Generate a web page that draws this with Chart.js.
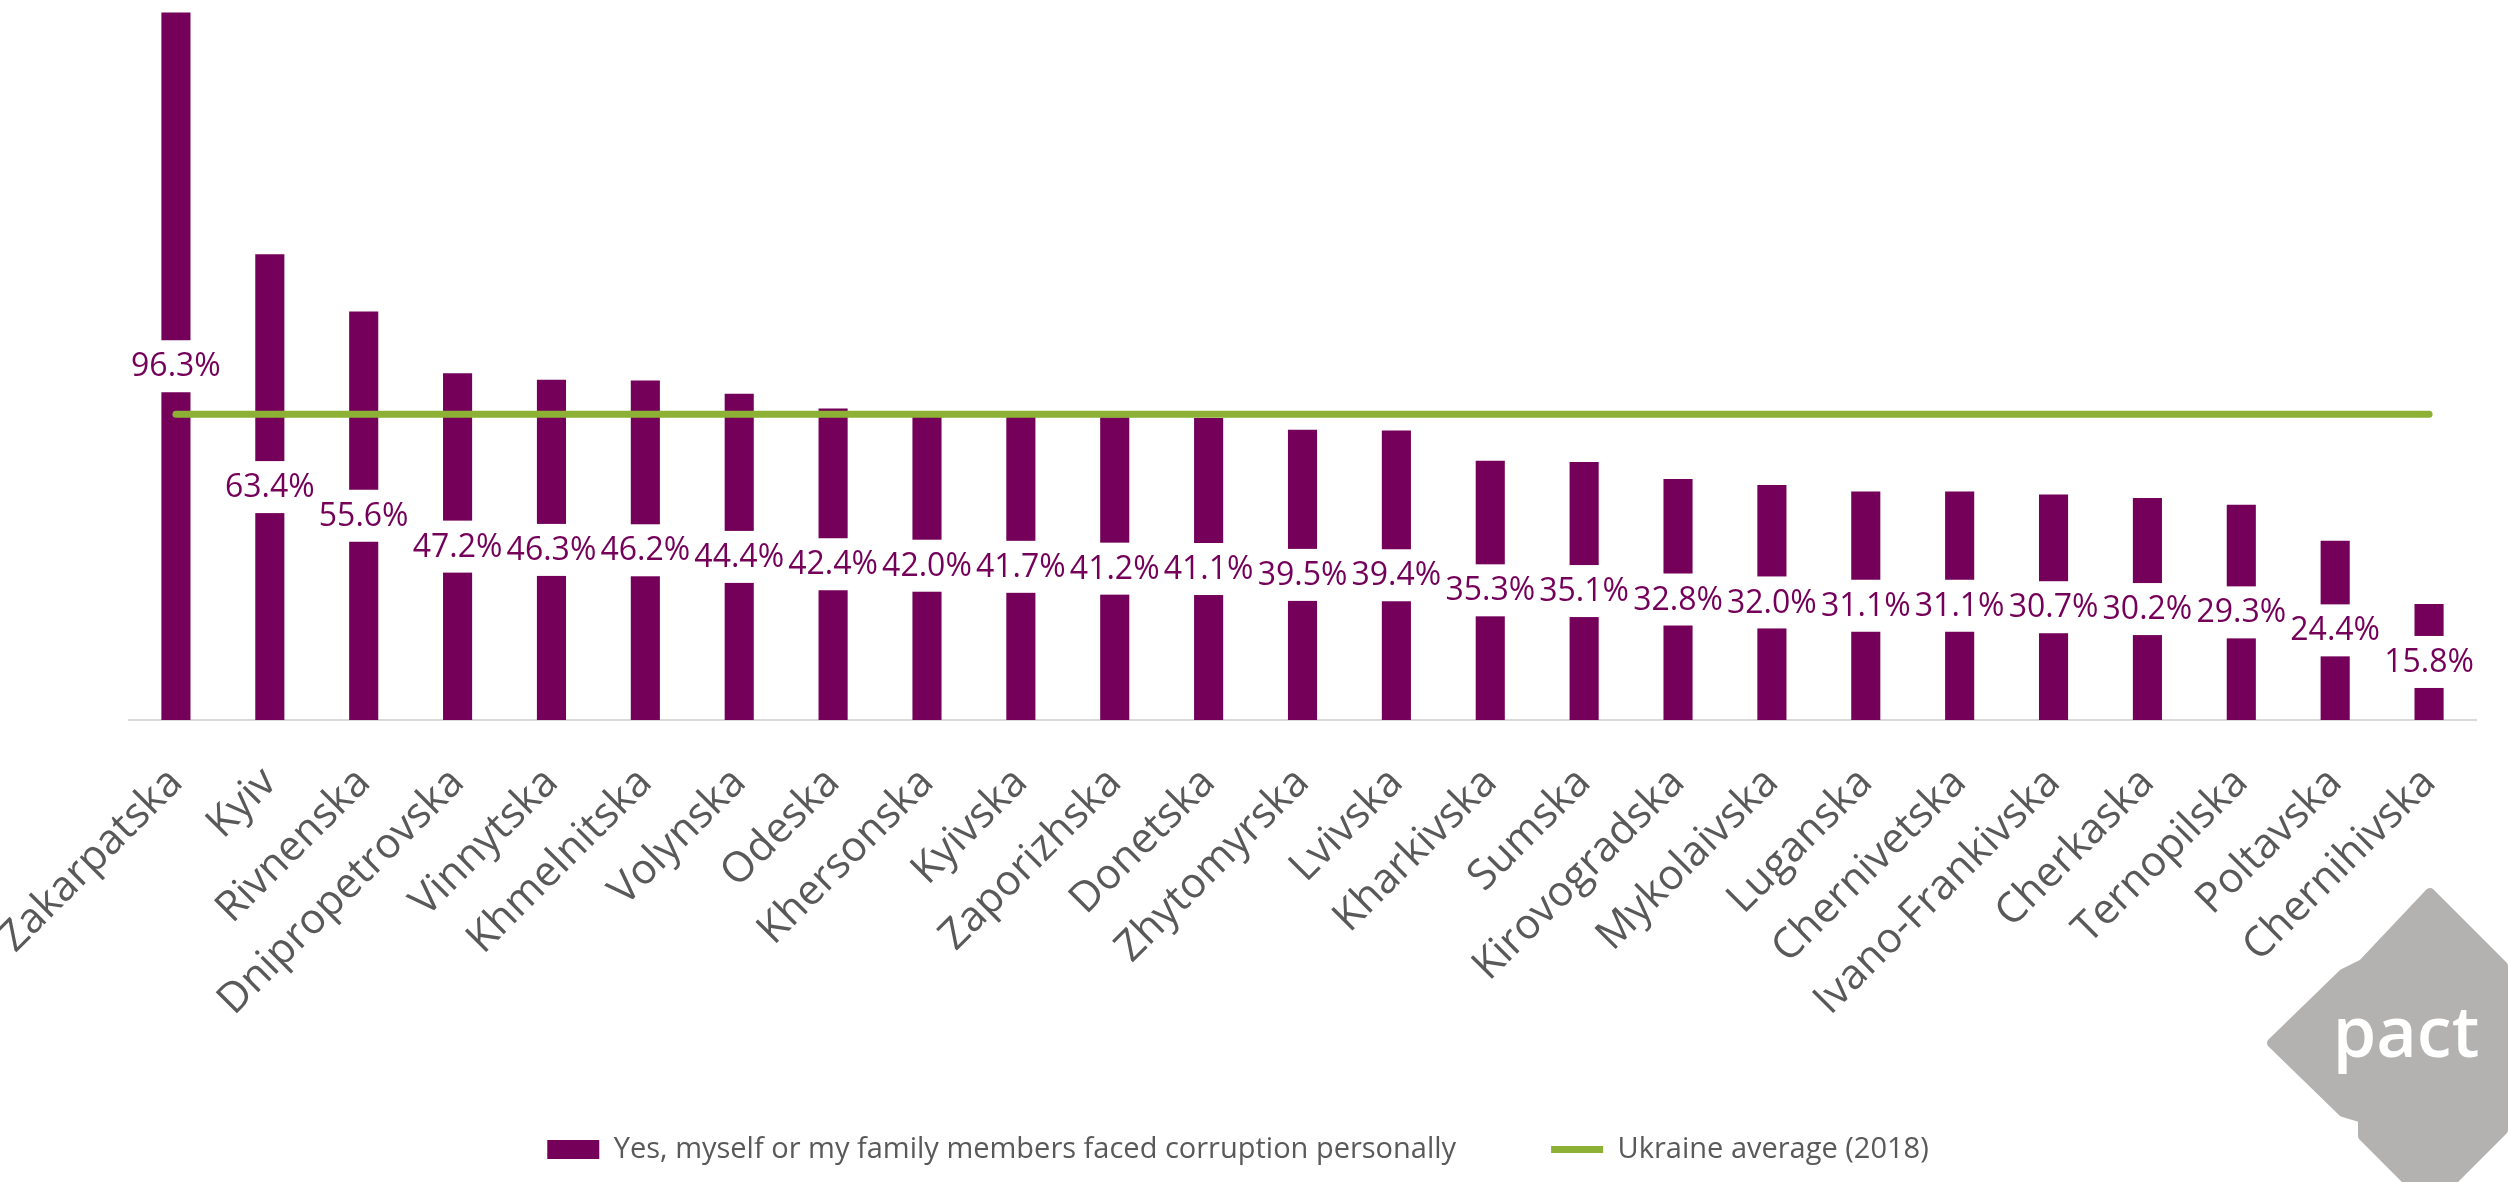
<!DOCTYPE html>
<html lang="en">
<head>
<meta charset="UTF-8">
<title>Faced corruption personally, by oblast</title>
<script src="https://cdn.jsdelivr.net/npm/chart.js@4.4.1/dist/chart.umd.min.js"></script>
<style>
  html, body { margin: 0; padding: 0; background: #fff; }
  #wrap { position: relative; width: 2509px; height: 1182px; }
</style>
</head>
<body>
<div id="wrap"><canvas id="chart"></canvas></div>
<script>
const regions = [
  "Zakarpatska", "Kyiv", "Rivnenska", "Dnipropetrovska", "Vinnytska",
  "Khmelnitska", "Volynska", "Odeska", "Khersonska", "Kyivska",
  "Zaporizhska", "Donetska", "Zhytomyrska", "Lvivska", "Kharkivska",
  "Sumska", "Kirovogradska", "Mykolaivska", "Luganska", "Chernivetska",
  "Ivano-Frankivska", "Cherkaska", "Ternopilska", "Poltavska", "Chernihivska"
];
const facedCorruption = [
  96.3, 63.4, 55.6, 47.2, 46.3,
  46.2, 44.4, 42.4, 42.0, 41.7,
  41.2, 41.1, 39.5, 39.4, 35.3,
  35.1, 32.8, 32.0, 31.1, 31.1,
  30.7, 30.2, 29.3, 24.4, 15.8
];
const ukraineAverage = 41.6;
const avgLine = regions.map(() => ukraineAverage);

const PURPLE = "#74005A";
const GREEN = "#8DB135";
const FONT = "'Open Sans', 'DejaVu Sans', sans-serif";

// value labels in the middle of each bar, on a white box
const barLabels = {
  id: "barLabels",
  afterDatasetsDraw(chart) {
    const ctx = chart.ctx;
    const meta = chart.getDatasetMeta(0);
    ctx.save();
    ctx.font = "32px " + FONT;
    ctx.textAlign = "center";
    ctx.textBaseline = "middle";
    meta.data.forEach((bar, i) => {
      const txt = facedCorruption[i].toFixed(1) + "%";
      const cy = (bar.y + bar.base) / 2;
      const w = ctx.measureText(txt).width + 2;
      ctx.fillStyle = "#fff";
      ctx.fillRect(bar.x - w / 2, cy - 26, w, 52);
      ctx.fillStyle = PURPLE;
      ctx.fillText(txt, bar.x, cy + 1);
    });
    ctx.restore();
  }
};

// grey "pact" badge in the bottom right corner
const pactLogo = {
  id: "pactLogo",
  afterDraw(chart) {
    const ctx = chart.ctx;
    const pts = [
      [2430, 893], [2503, 966], [2503, 1130], [2430, 1203], [2363, 1136],
      [2363, 1118], [2343, 1112], [2272, 1043], [2343, 974], [2363, 964]
    ];
    ctx.save();
    ctx.beginPath();
    pts.forEach((p, i) => i ? ctx.lineTo(p[0], p[1]) : ctx.moveTo(p[0], p[1]));
    ctx.closePath();
    ctx.fillStyle = "#B4B2B0";
    ctx.strokeStyle = "#B4B2B0";
    ctx.lineJoin = "round";
    ctx.lineWidth = 10;
    ctx.fill();
    ctx.stroke();
    ctx.fillStyle = "#fff";
    ctx.font = "600 70px " + FONT;
    ctx.textAlign = "center";
    ctx.textBaseline = "alphabetic";
    ctx.fillText("pact", 2406, 1057);
    ctx.restore();
  }
};

new Chart(document.getElementById("chart"), {
  data: {
    labels: regions,
    datasets: [
      {
        type: "bar",
        label: "Yes, myself or my family members faced corruption personally",
        data: facedCorruption,
        backgroundColor: PURPLE,
        borderWidth: 0,
        barPercentage: 0.31,
        categoryPercentage: 1,
        order: 2,
        pointStyle: "rect"
      },
      {
        type: "line",
        label: "Ukraine average (2018)",
        data: avgLine,
        borderColor: GREEN,
        backgroundColor: GREEN,
        borderWidth: 7,
        borderCapStyle: "round",
        pointRadius: 0,
        order: 1,
        pointStyle: "line"
      }
    ]
  },
  options: {
    responsive: true,
    maintainAspectRatio: false,
    animation: false,
    layout: { padding: { left: 0, right: 33, top: 0, bottom: 8 } },
    plugins: {
      tooltip: { enabled: false },
      legend: {
        position: "bottom",
        labels: {
          usePointStyle: true,
          pointStyleWidth: 52,
          boxHeight: 19,
          padding: 95,
          color: "#595959",
          font: { family: FONT, size: 29 },
          sort: (a, b) => a.datasetIndex - b.datasetIndex
        }
      }
    },
    scales: {
      x: {
        grid: { display: false, drawTicks: false },
        border: { display: true, color: "#D9D9D9", width: 2 },
        ticks: {
          autoSkip: false,
          maxRotation: 45,
          minRotation: 45,
          padding: 38,
          color: "#595959",
          font: { family: FONT, size: 42 }
        },
        afterFit(scale) {
          scale.height = 320;
          scale.paddingLeft = 0;
          scale.paddingRight = 0;
        }
      },
      y: {
        min: 0,
        max: 98,
        grid: { display: false, drawTicks: false },
        border: { display: false },
        ticks: { display: false },
        afterFit(scale) {
          scale.width = 129;
        }
      }
    }
  },
  plugins: [barLabels, pactLogo]
});
</script>
</body>
</html>
